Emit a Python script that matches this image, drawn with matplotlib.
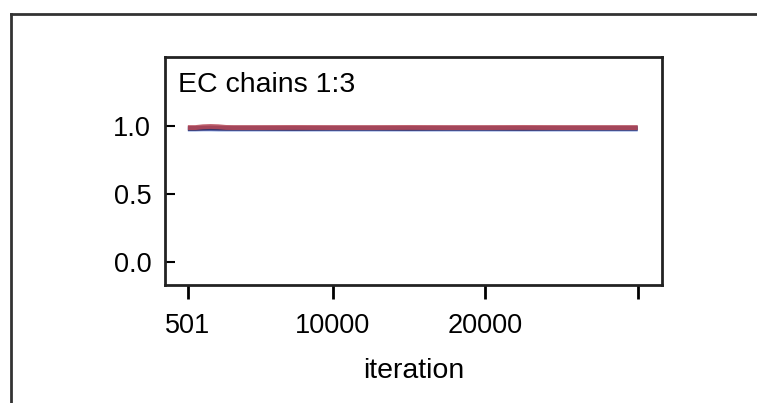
import matplotlib
matplotlib.use("Agg")
import matplotlib.pyplot as plt
from matplotlib.lines import Line2D

plt.rcParams['font.family'] = ['Liberation Sans', 'DejaVu Sans']

# EC chains 1:3
iteration = [501, 1000, 1500, 2000, 2500, 3000, 3500, 5000, 7500, 10000,
             12500, 15000, 17500, 20000, 22500, 25000, 27500, 30000]
chain1 = [0.990, 0.990, 0.996, 0.998, 0.996, 0.991, 0.990, 0.990, 0.991, 0.990,
          0.990, 0.991, 0.990, 0.990, 0.991, 0.990, 0.990, 0.990]
chain2 = [0.984, 0.984, 0.986, 0.987, 0.986, 0.985, 0.985, 0.985, 0.984, 0.985,
          0.985, 0.984, 0.985, 0.985, 0.984, 0.985, 0.985, 0.985]
chain3 = [0.977, 0.977, 0.978, 0.978, 0.977, 0.977, 0.977, 0.977, 0.977, 0.977,
          0.977, 0.977, 0.977, 0.977, 0.977, 0.977, 0.977, 0.977]

xticks = [501, 10000, 20000, 30000]
xticklabels = ['501', '10000', '20000', '']
yticks = [0.0, 0.5, 1.0]

fig = plt.figure(figsize=(7.57, 4.03), dpi=100)
ax = fig.add_axes([0.218, 0.2928, 0.6565, 0.5658])

ax.plot(iteration, chain3, color='#6a8ad8', lw=3, solid_capstyle='butt')
ax.plot(iteration, chain2, color='#3a3468', lw=3.5, solid_capstyle='butt')
ax.plot(iteration, chain1, color='#b84a58', lw=3.5, solid_capstyle='butt', alpha=0.85)

ax.set_xlim(-997, 31593)
ax.set_ylim(-0.17, 1.51)
ax.set_xticks(xticks)
ax.set_xticklabels(xticklabels)
ax.set_yticks(yticks)
ax.set_yticklabels(['0.0', '0.5', '1.0'])
ax.tick_params(axis='x', direction='out', length=10, width=2, labelsize=19.5, pad=10)
ax.tick_params(axis='y', direction='in', length=7, width=1.5, labelsize=19.5, pad=10)
for s in ax.spines.values():
    s.set_linewidth(2)
    s.set_color('#222222')

ax.set_xlabel('iteration', fontsize=20.5, labelpad=14)
ax.text(0.026, 0.935, 'EC chains 1:3', transform=ax.transAxes, fontsize=20.5,
        va='top', ha='left')

# outer frame: left and top edges only
fx0, fy = 11 / 757, 1 - 14 / 403
for xs, ys in [([fx0, fx0], [0, fy]), ([fx0, 1], [fy, fy])]:
    fig.add_artist(Line2D(xs, ys, transform=fig.transFigure, color='#333333', lw=2))

fig.savefig('out.png', dpi=100)
